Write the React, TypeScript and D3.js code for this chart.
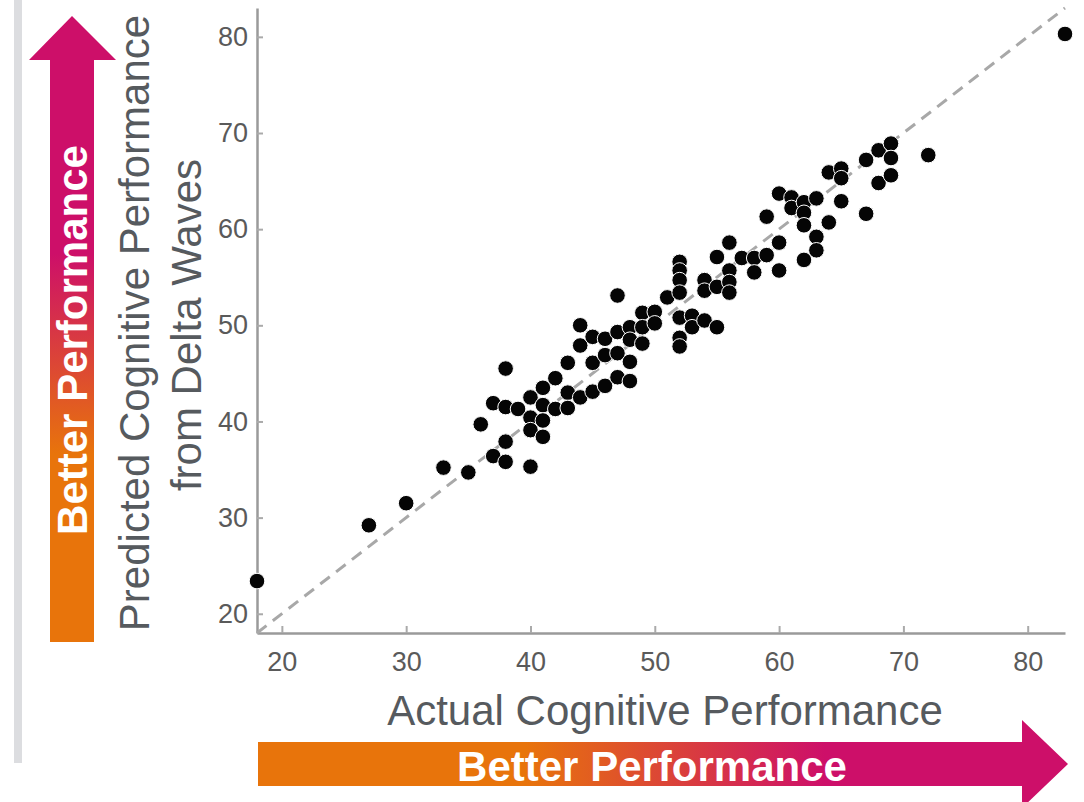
import React, { useEffect, useRef } from "react";
import * as d3 from "d3";

// actual vs predicted scores
const actualScores = [
  18, 27, 30, 33, 35, 36, 37, 37, 38, 38, 38, 38, 39, 40, 40, 40, 40, 41, 41, 41,
  41, 42, 42, 43, 43, 43, 44, 44, 44, 45, 45, 45, 46, 46, 46, 47, 47, 47, 47, 48,
  48, 48, 48, 49, 49, 49, 50, 50, 51, 52, 52, 52, 52, 52, 52, 52, 53, 53, 54, 54,
  54, 55, 55, 55, 56, 56, 56, 56, 57, 58, 58, 59, 59, 60, 60, 60, 61, 61, 62, 62,
  62, 62, 63, 63, 63, 64, 64, 65, 65, 65, 67, 67, 68, 68, 69, 69, 69, 72, 83,
];
const predictedScores = [
  23.4, 29.2, 31.5, 35.2, 34.7, 39.7, 41.9, 36.4, 45.5, 41.5, 37.9, 35.8, 41.3, 42.5, 40.4, 39.1, 35.3, 43.5, 41.7, 40.1,
  38.4, 44.5, 41.3, 46.1, 43.0, 41.4, 50.0, 47.9, 42.5, 48.8, 46.1, 43.1, 48.6, 46.9, 43.7, 53.1, 49.3, 47.1, 44.6, 49.8,
  48.5, 46.2, 44.2, 51.3, 49.8, 48.1, 51.4, 50.2, 52.9, 56.6, 55.7, 54.7, 53.4, 50.8, 48.7, 47.8, 51.0, 49.8, 54.7, 53.6,
  50.5, 57.1, 54.0, 49.8, 58.6, 55.7, 54.5, 53.4, 57.0, 57.0, 55.5, 61.3, 57.3, 63.7, 58.6, 55.7, 63.3, 62.2, 62.8, 61.7,
  60.4, 56.8, 63.2, 59.2, 57.8, 65.9, 60.7, 66.3, 65.3, 62.9, 67.2, 61.6, 68.2, 64.8, 68.9, 67.4, 65.6, 67.7, 80.3,
];
const xTicks = [20, 30, 40, 50, 60, 70, 80];
const yTicks = [20, 30, 40, 50, 60, 70, 80];
const axisDomain = [18, 83];

const ORANGE = "#e8740b";
const MAGENTA = "#cd0f69";
const FONT = "'Liberation Sans', Arial, Helvetica, sans-serif";

const App = () => {
  const ref = useRef<SVGSVGElement | null>(null);

  useEffect(() => {
    if (!ref.current) return;
    const svg = d3.select(ref.current);
    svg.selectAll("*").remove();

    const x = d3.scaleLinear().domain(axisDomain).range([257, 1065]);
    const y = d3.scaleLinear().domain(axisDomain).range([633, 8]);

    // gradients for the two arrows
    const defs = svg.append("defs");
    const vg = defs
      .append("linearGradient")
      .attr("id", "vgrad")
      .attr("gradientUnits", "userSpaceOnUse")
      .attr("x1", 0).attr("y1", 642).attr("x2", 0).attr("y2", 16);
    vg.append("stop").attr("offset", 0).attr("stop-color", ORANGE);
    vg.append("stop").attr("offset", 0.3).attr("stop-color", ORANGE);
    vg.append("stop").attr("offset", 0.62).attr("stop-color", MAGENTA);
    vg.append("stop").attr("offset", 1).attr("stop-color", MAGENTA);

    const hg = defs
      .append("linearGradient")
      .attr("id", "hgrad")
      .attr("gradientUnits", "userSpaceOnUse")
      .attr("x1", 258).attr("y1", 0).attr("x2", 1068).attr("y2", 0);
    hg.append("stop").attr("offset", 0).attr("stop-color", ORANGE);
    hg.append("stop").attr("offset", 0.33).attr("stop-color", ORANGE);
    hg.append("stop").attr("offset", 0.7).attr("stop-color", MAGENTA);
    hg.append("stop").attr("offset", 1).attr("stop-color", MAGENTA);

    // grey side bar
    svg.append("rect").attr("x", 14).attr("y", 0).attr("width", 8).attr("height", 763).attr("fill", "#dcdde0");

    // vertical arrow
    svg
      .append("polygon")
      .attr("points", "50,642 50,60 29,60 72,16 116,60 94,60 94,642")
      .attr("fill", "url(#vgrad)");
    svg
      .append("text")
      .attr("transform", "translate(87,340) rotate(-90)")
      .attr("text-anchor", "middle")
      .attr("font-family", FONT)
      .attr("font-weight", "bold")
      .attr("font-size", 42)
      .attr("fill", "#fff")
      .text("Better Performance");

    // horizontal arrow
    svg
      .append("polygon")
      .attr("points", "258,742 1022,742 1022,720 1068,764 1022,808 1022,786 258,786")
      .attr("fill", "url(#hgrad)");
    svg
      .append("text")
      .attr("x", 652)
      .attr("y", 781)
      .attr("text-anchor", "middle")
      .attr("font-family", FONT)
      .attr("font-weight", "bold")
      .attr("font-size", 42)
      .attr("fill", "#fff")
      .text("Better Performance");

    // axes
    const xAxis = svg
      .append("g")
      .attr("transform", `translate(0,${y(axisDomain[0])})`)
      .call(d3.axisBottom(x).tickValues(xTicks).tickSizeInner(-7).tickSizeOuter(0).tickPadding(19));
    const yAxis = svg
      .append("g")
      .attr("transform", `translate(${x(axisDomain[0])},0)`)
      .call(d3.axisLeft(y).tickValues(yTicks).tickSizeInner(-6).tickSizeOuter(0).tickPadding(9));

    [xAxis, yAxis].forEach((g) => {
      g.select(".domain").attr("stroke", "#9a9a9a").attr("stroke-width", 2.5);
      g.selectAll(".tick line").attr("stroke", "#aaa").attr("stroke-width", 2);
      g.selectAll(".tick text")
        .attr("fill", "#5a5a5a")
        .attr("font-family", FONT)
        .attr("font-size", 27);
    });

    // identity line
    svg
      .append("line")
      .attr("x1", x(axisDomain[0]))
      .attr("y1", y(axisDomain[0]))
      .attr("x2", x(axisDomain[1]))
      .attr("y2", y(axisDomain[1]))
      .attr("stroke", "#a8a8a8")
      .attr("stroke-width", 3)
      .attr("stroke-dasharray", "12 8");

    // points
    svg
      .selectAll(".dot")
      .data(actualScores.map((a, i) => ({ a, p: predictedScores[i] })))
      .enter()
      .append("circle")
      .attr("class", "dot")
      .attr("cx", (d) => x(d.a))
      .attr("cy", (d) => y(d.p))
      .attr("r", 7.8)
      .attr("fill", "#050505")
      .attr("stroke", "#fff")
      .attr("stroke-width", 1);

    // axis titles
    svg
      .append("text")
      .attr("x", 665)
      .attr("y", 725)
      .attr("text-anchor", "middle")
      .attr("font-family", FONT)
      .attr("font-size", 42)
      .attr("fill", "#565a5e")
      .text("Actual Cognitive Performance");

    svg
      .append("text")
      .attr("transform", "translate(149,323) rotate(-90)")
      .attr("text-anchor", "middle")
      .attr("font-family", FONT)
      .attr("font-size", 42)
      .attr("fill", "#565a5e")
      .text("Predicted Cognitive Performance");
    svg
      .append("text")
      .attr("transform", "translate(201,325) rotate(-90)")
      .attr("text-anchor", "middle")
      .attr("font-family", FONT)
      .attr("font-size", 42)
      .attr("fill", "#565a5e")
      .text("from Delta Waves");
  }, []);

  return (
    <svg
      ref={ref}
      width={1084}
      height={802}
      style={{ position: "absolute", left: 0, top: 0, background: "#fff" }}
    />
  );
};

export default App;
